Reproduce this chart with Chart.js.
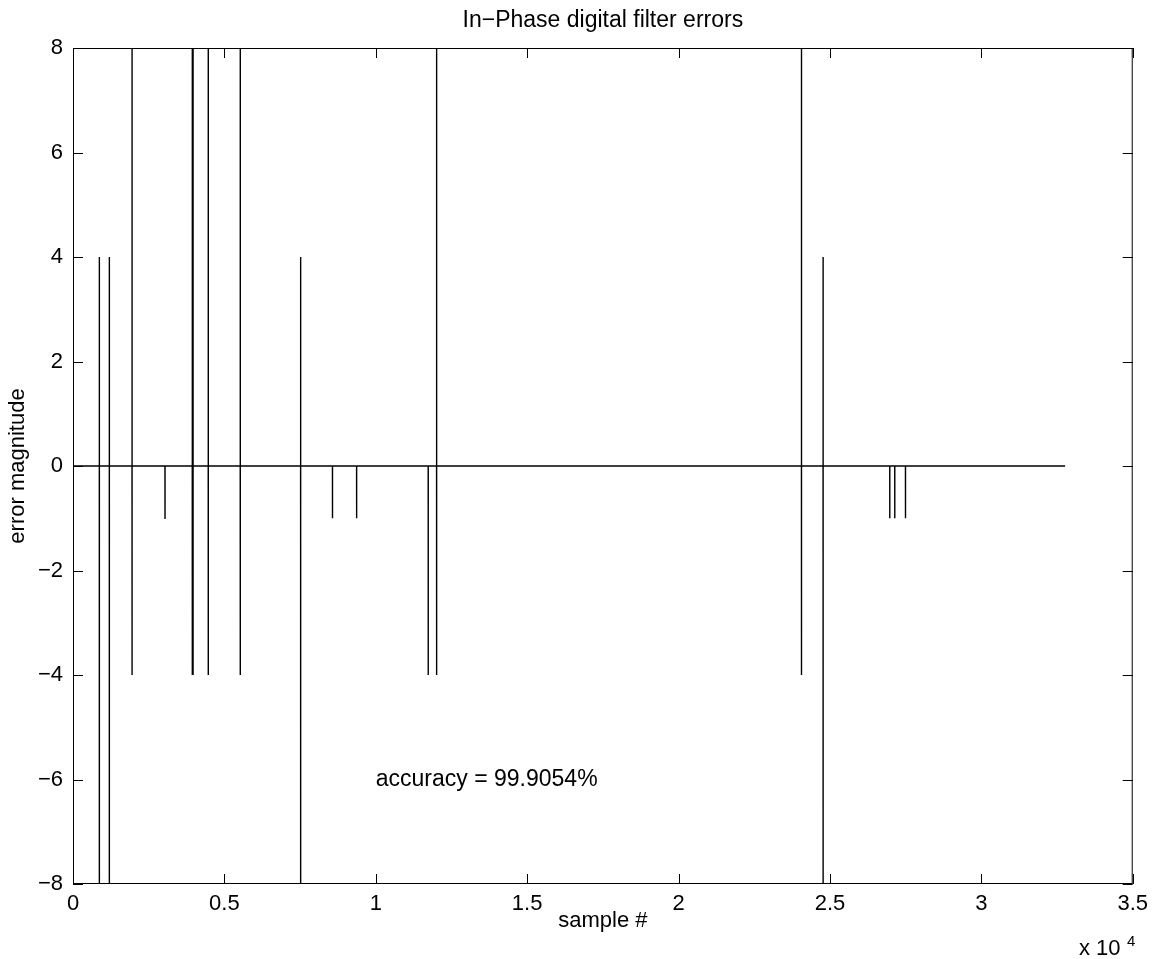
<!DOCTYPE html>
<html>
<head>
<meta charset="utf-8">
<title>In-Phase digital filter errors</title>
<script src="https://cdn.jsdelivr.net/npm/chart.js@4.4.1/dist/chart.umd.min.js"></script>
<style>
    html, body { margin: 0; padding: 0; background: #fff; }
    canvas { display: block; }
</style>
</head>
<body>
<canvas id="chart" width="1155" height="959"></canvas>
<script>
// Length of the error record (samples)
const sampleCount = 32768;

// Error spikes: sample index, upper value, lower value
const spikeSamples = [10, 870, 1200, 1950, 3038, 3940, 3965, 4467, 5524, 7518, 8570, 9367, 11732, 12009, 24060, 24774, 26976, 27141, 27495];
const spikeHigh    = [8,  4,   4,    8,    0,    8,    8,    8,    8,    4,    0,    0,    0,     8,     8,     4,     0,     0,     0];
const spikeLow     = [-8, -8,  -8,   -4,   -1,   -4,   -4,   -4,   -4,   -8,   -1,   -1,   -4,    -4,    -4,    -8,    -1,    -1,    -1];

// Axis ticks
const xTicks = [0, 5000, 10000, 15000, 20000, 25000, 30000, 35000];
const yTicks = [-8, -6, -4, -2, 0, 2, 4, 6, 8];

const accuracyText = 'accuracy = 99.9054%';
const fontFamily = '"Liberation Sans", Arial, Helvetica, sans-serif';
const fontSize = 22;
const textSize = 23; // title and annotation look a touch larger

// Build the line: zero everywhere except the spikes
const points = [{ x: 0, y: 0 }];
spikeSamples.forEach((s, i) => {
    points.push({ x: s - 1, y: 0 });
    points.push({ x: s, y: spikeHigh[i] });
    points.push({ x: s + 1, y: spikeLow[i] });
    points.push({ x: s + 2, y: 0 });
});
points.push({ x: sampleCount - 1, y: 0 });

/**
 * Draws the MATLAB style box, inward ticks and extra labels
 */
const matlabAxes = {
    id: 'matlabAxes',
    afterDraw(chart) {
        const ctx = chart.ctx;
        const { left, right, top, bottom } = chart.chartArea;
        const xs = chart.scales.x;
        const ys = chart.scales.y;
        const tick = 10;

        ctx.save();
        ctx.strokeStyle = '#000';
        ctx.lineWidth = 1;

        // box
        ctx.strokeRect(left + 0.5, top + 0.5, right - left - 1, bottom - top - 1);

        // inward ticks on all four sides
        ctx.beginPath();
        xTicks.forEach(v => {
            const px = Math.round(xs.getPixelForValue(v)) + 0.5;
            ctx.moveTo(px, bottom);
            ctx.lineTo(px, bottom - tick);
            ctx.moveTo(px, top);
            ctx.lineTo(px, top + tick);
        });
        yTicks.forEach(v => {
            const py = Math.round(ys.getPixelForValue(v)) + 0.5;
            ctx.moveTo(left, py);
            ctx.lineTo(left + tick, py);
            ctx.moveTo(right, py);
            ctx.lineTo(right - tick, py);
        });
        ctx.stroke();

        ctx.fillStyle = '#000';

        // title
        ctx.font = `${textSize}px ${fontFamily}`;
        ctx.textAlign = 'center';
        ctx.textBaseline = 'middle';
        ctx.fillText('In\u2212Phase digital filter errors', (left + right) / 2, 21);

        // annotation placed in data coordinates
        ctx.textAlign = 'left';
        ctx.fillText(accuracyText, xs.getPixelForValue(10000), ys.getPixelForValue(-6));

        // exponent label for the x axis
        ctx.font = `${fontSize}px ${fontFamily}`;
        ctx.textBaseline = 'alphabetic';
        ctx.fillText('x 10', 1079, 955);
        ctx.font = `15px ${fontFamily}`;
        ctx.fillText('4', 1127, 946);

        ctx.restore();
    }
};

new Chart(document.getElementById('chart'), {
    type: 'line',
    data: {
        datasets: [{
            data: points,
            borderColor: '#000',
            borderWidth: 1.4,
            pointRadius: 0,
            tension: 0,
            fill: false
        }]
    },
    options: {
        responsive: false,
        animation: false,
        events: [],
        layout: {
            padding: { top: 48, right: 22, bottom: 0, left: 0 }
        },
        plugins: {
            legend: { display: false },
            tooltip: { enabled: false },
            title: { display: false }
        },
        scales: {
            x: {
                type: 'linear',
                min: 0,
                max: 35000,
                grid: { display: false, drawTicks: false },
                border: { display: false },
                afterBuildTicks: scale => {
                    scale.ticks = xTicks.map(v => ({ value: v }));
                },
                afterFit: scale => {
                    scale.height = 75;
                },
                ticks: {
                    color: '#000',
                    padding: 7,
                    maxRotation: 0,
                    autoSkip: false,
                    font: { family: fontFamily, size: fontSize },
                    callback: value => String(value / 10000)
                },
                title: {
                    display: true,
                    text: 'sample #',
                    color: '#000',
                    padding: { top: 0, bottom: 25 },
                    font: { family: fontFamily, size: fontSize }
                }
            },
            y: {
                type: 'linear',
                min: -8,
                max: 8,
                grid: { display: false, drawTicks: false },
                border: { display: false },
                afterBuildTicks: scale => {
                    scale.ticks = yTicks.map(v => ({ value: v }));
                },
                afterFit: scale => {
                    scale.width = 73;
                },
                ticks: {
                    color: '#000',
                    padding: 10,
                    autoSkip: false,
                    font: { family: fontFamily, size: fontSize },
                    callback: value => String(value).replace('-', '\u2212')
                },
                title: {
                    display: true,
                    text: 'error magnitude',
                    color: '#000',
                    padding: { top: 5, bottom: 0 },
                    font: { family: fontFamily, size: fontSize }
                }
            }
        }
    },
    plugins: [matlabAxes]
});
</script>
</body>
</html>
